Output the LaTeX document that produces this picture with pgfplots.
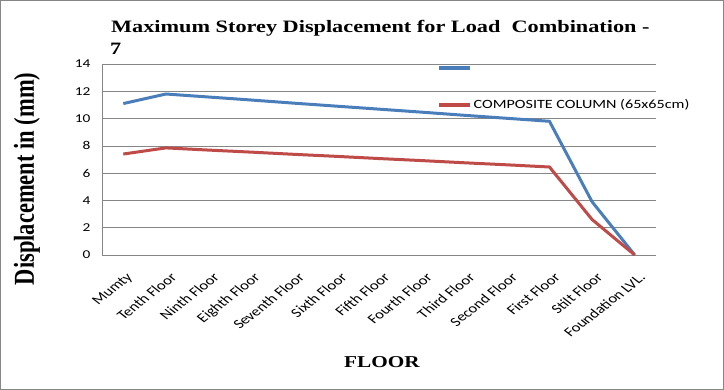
\documentclass[border=0pt]{standalone}
\usepackage{fontspec}
\usepackage{pgfplots}
\pgfplotsset{compat=1.18}
\setmainfont{Liberation Serif}
\newfontfamily\titlefont[FakeStretch=1.28]{Liberation Serif}
\newfontfamily\tickfont[FakeStretch=1.28]{Carlito}
\newfontfamily\plainsans{Carlito}
\newcommand\rl[1]{\scalebox{1.28}[1]{\rotatebox{45}{#1}}}
\definecolor{xlblue}{HTML}{4A7EBB}
\definecolor{xlred}{HTML}{BE4B48}
\definecolor{gridgray}{HTML}{868686}
\begin{document}
\begin{tikzpicture}
\path[use as bounding box] (0pt,0pt) rectangle (724pt,390pt);
\draw[gridgray] (0.5pt,0.5pt) rectangle (723.5pt,389.5pt);
\begin{axis}[
  at={(102pt,135pt)}, anchor=south west,
  scale only axis, width=554pt, height=191pt,
  xmin=-0.5, xmax=12.5, ymin=0, ymax=14,
  ytick={0,2,...,14},
  xtick={0,...,12},
  xticklabels={\rl{Mumty},\rl{Tenth Floor},\rl{Ninth Floor},\rl{Eighth Floor},\rl{Seventh Floor},\rl{Sixth Floor},\rl{Fifth Floor},\rl{Fourth Floor},\rl{Third Floor},\rl{Second Floor},\rl{First Floor},\rl{Stilt Floor},\rl{Foundation LVL.}},
  axis lines*=left,
  axis line style={-, gridgray},
  ymajorgrids, grid style={gridgray, line width=0.6pt},
  major tick length=0pt,
  tick style={draw=none},
  /pgf/number format/assume math mode=true,
  yticklabel style={font=\tickfont\fontsize{12}{13}\selectfont, xshift=-8pt},
  xticklabel style={font=\plainsans\fontsize{13}{14}\selectfont, anchor=north east, inner sep=0pt, yshift=-17pt, xshift=12pt},
  legend style={at={(0.6047,0.87)}, anchor=west, draw=none, fill=none, inner sep=0pt,
    font=\tickfont\fontsize{12.6}{14}\selectfont, row sep=27pt, cells={anchor=west}},
  legend image code/.code={\draw[#1, line width=3.5pt] (0pt,0pt) -- (31pt,0pt);},
  clip=false,
]
\addplot[xlblue, line width=3pt] coordinates {
(0,11.1) (1,11.8) (2,11.58) (3,11.36) (4,11.13) (5,10.91) (6,10.69) (7,10.47) (8,10.24) (9,10.02) (10,9.8) (11,3.9) (12,0)};
\addlegendentry{\mbox{}}
\addplot[xlred, line width=3pt] coordinates {
(0,7.4) (1,7.85) (2,7.69) (3,7.54) (4,7.38) (5,7.23) (6,7.07) (7,6.92) (8,6.76) (9,6.61) (10,6.45) (11,2.6) (12,0)};
\addlegendentry{COMPOSITE COLUMN (65x65cm)}
\end{axis}
\node[anchor=base west, inner sep=0pt, font=\titlefont\bfseries\fontsize{17.4}{18}\selectfont] at (111pt,357pt) {Maximum Storey Displacement for Load\ \ Combination -};
\node[anchor=base west, inner sep=0pt, font=\titlefont\bfseries\fontsize{17.4}{18}\selectfont] at (110pt,335pt) {7};
\node[anchor=base, inner sep=0pt, font=\titlefont\bfseries\fontsize{16.6}{18}\selectfont] at (382pt,22pt) {FLOOR};
\node[rotate=90, inner sep=0pt, font=\bfseries\fontsize{22.5}{24}\selectfont] at (27pt,211pt) {\scalebox{1}[1.28]{Displacement in (mm)}};
\end{tikzpicture}
\end{document}
